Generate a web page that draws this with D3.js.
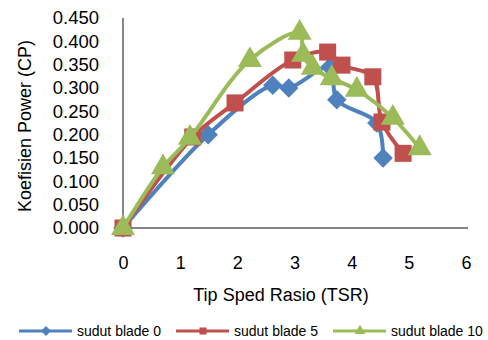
<!DOCTYPE html>
<html>
<head>
<meta charset="utf-8">
<title>CP vs TSR</title>
<script src="https://cdn.jsdelivr.net/npm/d3@7"></script>
<style>
  body { margin: 0; background: #fff; }
  svg text { font-family: "Liberation Sans", Arial, sans-serif; fill: #000; }
  .axis path, .axis line { stroke: #868686; }
</style>
</head>
<body>
<script>
// data
var seriesNames = ["sudut blade 0", "sudut blade 5", "sudut blade 10"];
var tsr0 = [0, 1.49, 2.62, 2.90, 3.62, 3.74, 4.44, 4.55];
var cp0  = [0, 0.200, 0.306, 0.300, 0.345, 0.275, 0.225, 0.150];
var tsr5 = [0, 1.22, 1.96, 2.97, 3.58, 3.83, 4.37, 4.53, 4.90];
var cp5  = [0, 0.195, 0.268, 0.360, 0.377, 0.349, 0.324, 0.227, 0.160];
var tsr10 = [0, 0.70, 1.17, 2.22, 3.09, 3.15, 3.32, 3.65, 4.09, 4.72, 5.19];
var cp10  = [0, 0.130, 0.193, 0.360, 0.418, 0.371, 0.343, 0.321, 0.296, 0.236, 0.171];
var xTicks = [0, 1, 2, 3, 4, 5, 6];
var yTicks = [0, 0.05, 0.1, 0.15, 0.2, 0.25, 0.3, 0.35, 0.4, 0.45];

var width = 488, height = 340;
var plot = {left: 123, right: 466, top: 18, bottom: 228};

var svg = d3.select("body").append("svg")
  .attr("width", width)
  .attr("height", height);

var x = d3.scaleLinear().domain([0, 6]).range([plot.left, plot.right]);
var y = d3.scaleLinear().domain([0, 0.45]).range([plot.bottom, plot.top]);

// diamond = square turned 45deg, like the spreadsheet marker
var diamond = {
  draw: function(ctx, size) {
    var r = Math.sqrt(size / 2);
    ctx.moveTo(0, -r); ctx.lineTo(r, 0); ctx.lineTo(0, r); ctx.lineTo(-r, 0); ctx.closePath();
  }
};

// axes
var xAxis = d3.axisBottom(x).tickValues(xTicks).tickSize(0).tickPadding(39).tickFormat(d3.format("d"));
var yAxis = d3.axisLeft(y).tickValues(yTicks).tickSize(0).tickPadding(24).tickFormat(d3.format(".3f"));

var gx = svg.append("g").attr("class", "axis")
  .attr("transform", "translate(0," + plot.bottom + ")")
  .call(xAxis);
gx.select(".domain").attr("d", "M" + plot.left + ",0H" + (plot.right + 2)).attr("stroke-width", 2);
gx.selectAll("text").attr("font-size", 18).attr("dy", "0.1em");

var gy = svg.append("g").attr("class", "axis")
  .attr("transform", "translate(" + plot.left + ",0)")
  .call(yAxis);
gy.select(".domain").attr("d", "M0," + plot.bottom + "V" + plot.top).attr("stroke-width", 2);
gy.selectAll("text").attr("font-size", 18.5);

// axis titles
svg.append("text")
  .attr("x", 281).attr("y", 301)
  .attr("text-anchor", "middle")
  .attr("font-size", 18)
  .text("Tip Sped Rasio (TSR)");
svg.append("text")
  .attr("transform", "translate(31,126) rotate(-90)")
  .attr("text-anchor", "middle")
  .attr("font-size", 18)
  .text("Koefisien Power (CP)");

var series = [
  {name: seriesNames[0], xs: tsr0, ys: cp0, color: "#4F81BD", shape: diamond, size: 190},
  {name: seriesNames[1], xs: tsr5, ys: cp5, color: "#C0504D", shape: d3.symbolSquare, size: 290},
  {name: seriesNames[2], xs: tsr10, ys: cp10, color: "#9BBB59", shape: d3.symbolTriangle, size: 250}
];

var line = d3.line()
  .x(function(d) { return x(d[0]); })
  .y(function(d) { return y(d[1]); })
  .curve(d3.curveCatmullRom.alpha(0.5));

series.forEach(function(s) {
  var pts = s.xs.map(function(v, i) { return [v, s.ys[i]]; });
  var g = svg.append("g");
  g.append("path")
    .datum(pts)
    .attr("fill", "none")
    .attr("stroke", s.color)
    .attr("stroke-width", 4)
    .attr("d", line);
  g.selectAll("path.mark")
    .data(pts)
    .enter().append("path")
    .attr("class", "mark")
    .attr("fill", s.color)
    .attr("transform", function(d) { return "translate(" + x(d[0]) + "," + y(d[1]) + ")"; })
    .attr("d", d3.symbol().type(s.shape).size(s.size));
});

// legend
var legendX = [19, 176, 333];
var legend = svg.append("g").attr("transform", "translate(0,331)");
series.forEach(function(s, i) {
  var lg = legend.append("g").attr("transform", "translate(" + legendX[i] + ",0)");
  lg.append("line").attr("x1", 0).attr("x2", 53).attr("y1", 0).attr("y2", 0)
    .attr("stroke", s.color).attr("stroke-width", 3);
  lg.append("path").attr("transform", "translate(27,0)")
    .attr("fill", s.color)
    .attr("d", d3.symbol().type(s.shape).size(50));
  lg.append("text").attr("x", 58).attr("dy", "0.35em")
    .attr("font-size", 14)
    .text(s.name);
});
</script>
</body>
</html>
